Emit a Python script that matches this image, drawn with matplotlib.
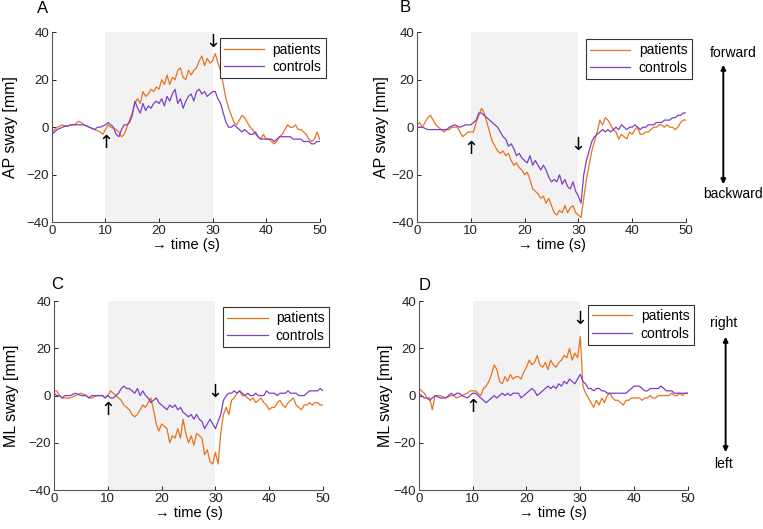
import numpy as np
import matplotlib
matplotlib.use("Agg")
import matplotlib.pyplot as plt

plt.rcParams['font.family'] = ['Liberation Sans', 'DejaVu Sans']

# time base, 0.5 s steps
t = np.arange(0, 50.5, 0.5)

# A: AP sway, forward perturbation
ap_fwd_patients = [
    -2, -1, 0, 0.5, 1, 0.5, 0.5, 1, 1, 1.5,
    2.5, 2, 1, 0.5, 0, -0.5, -1, -1.5, -2, -3,
    -1, 1, 0, -0.5, -1, -2, -4, -3, 0, 3,
    6, 10, 12, 10, 15, 13, 14, 16, 15, 17,
    16, 20, 18, 22, 18, 21, 20, 24, 25, 21,
    20, 24, 22, 24, 25, 28, 30, 26, 29, 27,
    28, 31, 27, 24, 18, 12, 8, 5, 2, 1,
    3, 5, 4, 2, 0, -1, -3, -4, -5, -3,
    -5, -5, -6, -7, -6, -4, -3, -1, 1, 0,
    0, 1, -1, -1, -2, -3, -5, -6, -5, -2,
    -5]
ap_fwd_controls = [
    -3, -2, -1, -0.5, 0, 0.5, 0.5, 1, 1, 1,
    1, 1, 1, 0.5, 0, -0.5, -1, 0, 0, 0.5,
    1, 2, 1, 0, -3, -4, -1, 1, 1, 2,
    5, 11, 8, 6, 10, 7, 9, 8, 10, 11,
    10, 12, 9, 13, 11, 14, 16, 10, 12, 8,
    11, 13, 14, 11, 15, 16, 14, 15, 13, 14,
    15, 15, 12, 10, 6, 2, 0, 0, 1, 0,
    -1, -2, -1, -2, -3, -3, -2, -4, -5, -5,
    -5, -5, -5, -6, -5, -4, -4, -4, -4, -4,
    -5, -5, -5, -5, -6, -6, -6, -7, -7, -6,
    -6]

# B: AP sway, backward perturbation
ap_bwd_patients = [
    1, 2, 0, 2, 4, 5, 3, 1, 0, -1,
    -2, -1, -1, 0, 0, 0, -2, -4, -3, -2,
    -2, -2, 2, 5, 8, 6, 2, -2, -6, -8,
    -10, -11, -10, -12, -11, -14, -16, -15, -17, -18,
    -20, -19, -22, -26, -27, -28, -30, -29, -32, -30,
    -33, -36, -37, -35, -36, -33, -36, -34, -33, -36,
    -37, -38, -30, -22, -16, -10, -6, -2, 3, 1,
    4, 3, 1, -1, -2, -5, -3, -4, -5, -2,
    -3, -1, 0, -3, -3, -2, -2, -1, 0, 0,
    1, 1, 0, 1, 0, 0, -1, 0, 2, 3,
    3]
ap_bwd_controls = [
    0, 0, 0, -0.5, -1, -1, -1, -1, -1, -1,
    -1, -1, 0, 0.5, 1, 0.5, 0, 0.5, 1, 1,
    1, 2, 3, 6, 6, 5, 4, 3, 2, 1,
    0, -2, -4, -5, -8, -7, -9, -12, -11, -13,
    -14, -15, -12, -16, -14, -16, -18, -16, -18, -21,
    -23, -22, -23, -20, -24, -22, -25, -26, -23, -27,
    -29, -32, -20, -14, -10, -6, -4, -3, -2, -1,
    -2, -1, -2, -1, 0, -1, 1, 0, -1, 0,
    0, 1, 0, -1, 0, 0, 1, 1, 1, 2,
    2, 2, 3, 3, 3, 4, 4, 5, 5, 6,
    6]

# C: ML sway, leftward perturbation
ml_left_patients = [
    2, 2, 0, -1, -1, -1, -1, -0.5, 0, 0.5,
    1, 0.5, 0, -1, -1, -0.5, 0, 0, 0, -1,
    0, 2, 1, 0, -1, -2, -4, -5, -6, -8,
    -9, -8, -6, -4, -5, -3, -1, -6, -12, -15,
    -12, -13, -14, -20, -17, -18, -14, -18, -10, -16,
    -20, -17, -21, -16, -17, -18, -25, -23, -28, -29,
    -24, -29, -16, -8, -5, -8, -2, -1, 1, 2,
    0, 0, -1, -2, -1, -3, -2, -1, -3, -4,
    -6, -5, -5, -3, -2, -4, -5, -3, -2, -1,
    -4, -5, -6, -4, -4, -3, -4, -3, -3, -4,
    -4]
ml_left_controls = [
    1, 0, 0, -1, 0, 0, 0, 0.5, 1, 0.5,
    0, 0, 0, -1, 0, 0, 0, 0, 0, -1,
    0, -1, -1, 0, 1, 3, 4, 3, 3, 2,
    1, 3, 0, 2, 0, -1, -3, -2, -1, -3,
    -4, -5, -6, -4, -5, -4, -6, -5, -7, -8,
    -9, -8, -10, -8, -10, -11, -14, -12, -10, -12,
    -14, -11, -8, -2, 0, 1, 1, 2, 1, 2,
    1, 0, 1, 0, 0, 1, 0, 0, 0, 2,
    1, 1, 1, 0, 1, 1, 1, 2, 1, 1,
    1, 0, 0, 0, 1, 2, 2, 2, 2, 3,
    2]

# D: ML sway, rightward perturbation
ml_right_patients = [
    3, 2, 1, -1, -1, -6, 0, 0, 0, -0.5,
    -1, -0.5, 0, 0, -1, -0.5, 0, 0.5, 1, 2,
    2, 2, 1, 0, 3, 4, 6, 9, 13, 11,
    6, 5, 8, 6, 9, 7, 8, 8, 7, 10,
    12, 15, 13, 14, 17, 13, 12, 14, 11, 15,
    13, 12, 14, 15, 17, 16, 20, 15, 18, 16,
    25, 4, 1, -1, -3, -5, -2, -4, -1, -3,
    0, 1, -1, -2, -2, -3, -4, -2, -2, -1,
    -1, -1, -1, -2, -1, -1, 0, -1, -1, 0,
    0, 0, 0, 0, 1, 0, 0, 1, 0, 1,
    1]
ml_right_controls = [
    1, 0, -1, -1, -2, -1, 0, -0.5, -1, -1,
    -1, 0, 1, 0, 1, 1, 0, -0.5, -1, 0,
    1, 1, 0, -1, -2, -3, -2, -1, 0, -1,
    0, 1, 0, 1, 0, 1, 1, 1, -1, 0,
    1, 2, 3, 2, 0, 1, 2, 3, 4, 3,
    4, 3, 5, 4, 6, 5, 7, 6, 5, 7,
    9, 6, 5, 3, 3, 2, 3, 3, 2, 2,
    1, 1, 1, 1, 1, 1, 1, 1, 2, 3,
    4, 4, 4, 3, 2, 2, 3, 3, 3, 3,
    4, 3, 2, 2, 2, 1, 1, 1, 1, 1,
    1]

ORANGE = '#E8731F'
PURPLE = '#7B40C6'

fig = plt.figure(figsize=(7.63, 5.29), dpi=100)

panels = [
    # letter, axes rect, patients, controls, ylabel, up-arrow y, down-arrow y, legend top, ylabel x
    ('A', [0.068, 0.580, 0.351, 0.359], ap_fwd_patients, ap_fwd_controls, 'AP sway [mm]', -6.5, 36, 0.968, -0.125),
    ('B', [0.5465, 0.580, 0.3525, 0.359], ap_bwd_patients, ap_bwd_controls, 'AP sway [mm]', -9, -7.6, 0.963, -0.105),
    ('C', [0.0708, 0.0737, 0.3525, 0.357], ml_left_patients, ml_left_controls, 'ML sway [mm]', -6.3, 1.5, 0.968, -0.132),
    ('D', [0.549, 0.0737, 0.3525, 0.357], ml_right_patients, ml_right_controls, 'ML sway [mm]', -4.9, 32.5, 0.979, -0.097),
]
letter_pos = {'A': (0.056, 0.984), 'B': (0.531, 0.985), 'C': (0.075, 0.463), 'D': (0.556, 0.461)}

for letter, rect, pat, con, ylab, up_y, down_y, leg_top, ylx in panels:
    ax = fig.add_axes(rect)
    ax.axvspan(10, 30, color='#f2f2f2', lw=0, zorder=0)
    ax.plot(t, pat, color=ORANGE, lw=0.9, label='patients', zorder=2)
    ax.plot(t, con, color=PURPLE, lw=0.9, label='controls', zorder=3)
    ax.set_xlim(0, 50)
    ax.set_ylim(-40, 40)
    ax.set_xticks([0, 10, 20, 30, 40, 50])
    ax.set_yticks([-40, -20, 0, 20, 40])
    ax.tick_params(direction='in', length=3, width=0.7, labelsize=9.5, colors='#222222', pad=2)
    for s in ['top', 'right']:
        ax.spines[s].set_visible(False)
    for s in ['left', 'bottom']:
        ax.spines[s].set_color('#555555')
        ax.spines[s].set_linewidth(0.8)
    ax.set_xlabel('\u2192 time (s)', fontsize=10.5, labelpad=1)
    ax.set_ylabel(ylab, fontsize=11.5)
    ax.yaxis.set_label_coords(ylx, 0.5)
    ax.text(10, up_y, '\u2191', ha='center', va='center', fontsize=13, family='DejaVu Sans')
    ax.text(30, down_y, '\u2193', ha='center', va='center', fontsize=13, family='DejaVu Sans')
    leg = ax.legend(loc='upper right', bbox_to_anchor=(1.022, leg_top), fontsize=10,
                    handlelength=2.9, frameon=True, fancybox=False, framealpha=1,
                    edgecolor='#333333', borderpad=0.3, labelspacing=0.25,
                    handletextpad=0.6, borderaxespad=0)
    leg.get_frame().set_linewidth(0.8)
    fig.text(*letter_pos[letter], letter, fontsize=12, ha='center', va='center')

# direction indicators on the right
fig.text(0.961, 0.900, 'forward', fontsize=10, ha='center', va='center')
fig.text(0.961, 0.633, 'backward', fontsize=10, ha='center', va='center')
fig.add_artist(matplotlib.patches.FancyArrowPatch(
    (0.948, 1 - 187 / 529), (0.948, 1 - 62 / 529), transform=fig.transFigure,
    arrowstyle='<|-|>', mutation_scale=7, lw=1.4, color='black'))
fig.text(0.948, 0.389, 'right', fontsize=10, ha='center', va='center')
fig.text(0.948, 0.123, 'left', fontsize=10, ha='center', va='center')
fig.add_artist(matplotlib.patches.FancyArrowPatch(
    (0.951, 1 - 455 / 529), (0.951, 1 - 334 / 529), transform=fig.transFigure,
    arrowstyle='<|-|>', mutation_scale=7, lw=1.4, color='black'))

fig.savefig('out.png', dpi=100)
